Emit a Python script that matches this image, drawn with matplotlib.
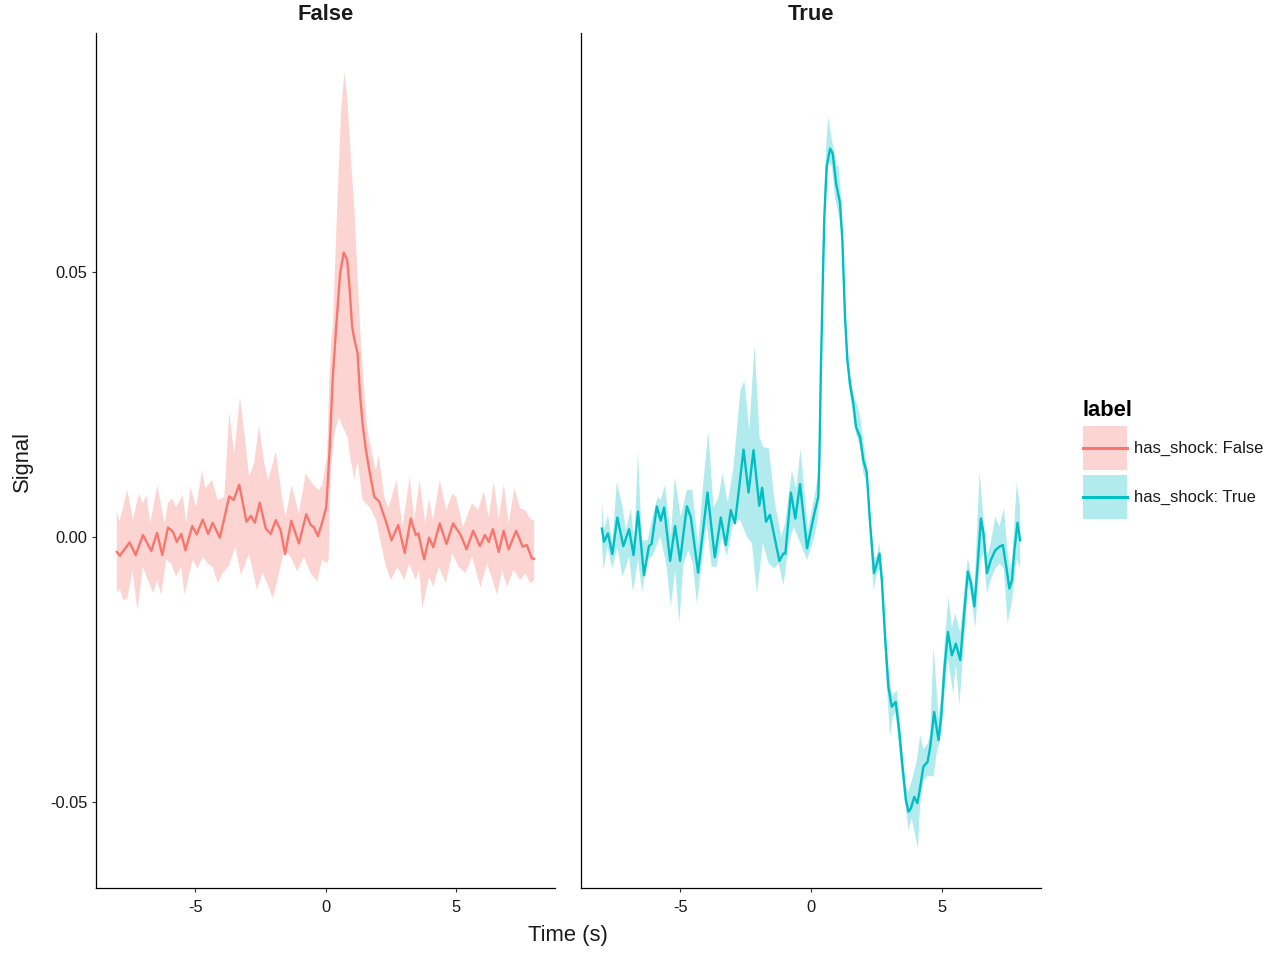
"""Faceted event-locked signal: mean trace with ribbon, split by has_shock."""
import numpy as np
import matplotlib
matplotlib.use("Agg")
import matplotlib.pyplot as plt
from matplotlib.lines import Line2D
from matplotlib.patches import Rectangle
from matplotlib.legend_handler import HandlerBase
from matplotlib.ticker import FormatStrFormatter

plt.rcParams["font.family"] = ["Liberation Sans", "DejaVu Sans"]
plt.rcParams["axes.unicode_minus"] = False

FACETS = ["False", "True"]
LEGEND_LABELS = ["has_shock: False", "has_shock: True"]
COLORS = ["#F8766D", "#00BFC4"]

# ---- has_shock = False -------------------------------------------------
t_mean_false = [-8.00, -7.89, -7.51, -7.28, -7.00, -6.68, -6.46, -6.26, -6.04, -5.85,
                -5.70, -5.53, -5.37, -5.11, -4.94, -4.71, -4.50, -4.33, -4.05, -3.69,
                -3.52, -3.31, -3.03, -2.86, -2.71, -2.52, -2.29, -2.10, -1.91, -1.72,
                -1.55, -1.31, -1.02, -0.74, -0.57, -0.45, -0.29, -0.13, 0.03, 0.15,
                0.28, 0.41, 0.56, 0.70, 0.83, 0.92, 1.02, 1.11, 1.23, 1.32,
                1.42, 1.55, 1.68, 1.87, 2.06, 2.32, 2.53, 2.79, 3.04, 3.27,
                3.46, 3.56, 3.78, 3.97, 4.13, 4.38, 4.64, 4.89, 5.18, 5.41,
                5.66, 5.92, 6.11, 6.26, 6.42, 6.64, 6.83, 7.02, 7.31, 7.56,
                7.72, 7.91, 8.00]
mean_false = [-0.0028, -0.0035, -0.0010, -0.0034, 0.0004, -0.0026, 0.0008, -0.0034, 0.0018, 0.0010,
              -0.0009, 0.0006, -0.0025, 0.0021, 0.0005, 0.0033, 0.0006, 0.0027, -0.0001, 0.0077,
              0.0070, 0.0099, 0.0029, 0.0040, 0.0027, 0.0065, 0.0016, 0.0006, 0.0032, 0.0013,
              -0.0032, 0.0031, -0.0012, 0.0043, 0.0023, 0.0019, 0.0002, 0.0027, 0.0057, 0.0158,
              0.0302, 0.0397, 0.0498, 0.0537, 0.0523, 0.0472, 0.0397, 0.0372, 0.0347, 0.0271,
              0.0215, 0.0164, 0.0126, 0.0076, 0.0067, 0.0029, -0.0006, 0.0023, -0.0030, 0.0035,
              0.0004, 0.0007, -0.0042, -0.0001, -0.0019, 0.0026, -0.0013, 0.0026, 0.0004, -0.0023,
              0.0012, -0.0017, 0.0004, -0.0009, 0.0015, -0.0028, 0.0012, -0.0023, 0.0012, -0.0018,
              -0.0015, -0.0040, -0.0041]

t_hi_false = [-8.00, -7.91, -7.76, -7.60, -7.38, -7.16, -7.00, -6.87, -6.72, -6.45,
              -6.17, -6.04, -5.88, -5.73, -5.47, -5.34, -5.18, -4.96, -4.73, -4.61,
              -4.35, -4.13, -3.88, -3.69, -3.50, -3.28, -3.05, -2.93, -2.74, -2.55,
              -2.35, -2.19, -1.91, -1.65, -1.53, -1.30, -1.02, -0.76, -0.51, -0.26,
              -0.13, 0.06, 0.15, 0.22, 0.28, 0.47, 0.60, 0.73, 0.85, 0.98,
              1.11, 1.23, 1.36, 1.49, 1.62, 1.81, 1.93, 2.04, 2.25, 2.42,
              2.72, 2.95, 3.23, 3.40, 3.61, 3.82, 3.97, 4.12, 4.38, 4.63,
              4.86, 5.01, 5.27, 5.62, 5.85, 6.07, 6.26, 6.45, 6.64, 6.84,
              7.02, 7.24, 7.47, 7.66, 7.81, 8.00]
hi_false = [0.0051, 0.0029, 0.0057, 0.0089, 0.0032, 0.0082, 0.0064, 0.0079, 0.0026, 0.0098,
            0.0026, 0.0064, 0.0073, 0.0057, 0.0079, 0.0026, 0.0095, 0.0057, 0.0126, 0.0092,
            0.0108, 0.0070, 0.0076, 0.0236, 0.0158, 0.0265, 0.0170, 0.0114, 0.0139, 0.0211,
            0.0139, 0.0108, 0.0161, 0.0070, 0.0038, 0.0098, 0.0045, 0.0120, 0.0101, 0.0089,
            0.0098, 0.0152, 0.0300, 0.0372, 0.0400, 0.0649, 0.0806, 0.0878, 0.0818, 0.0711,
            0.0617, 0.0491, 0.0366, 0.0271, 0.0200, 0.0152, 0.0126, 0.0155, 0.0076, 0.0055,
            0.0108, 0.0019, 0.0114, 0.0032, 0.0108, 0.0026, 0.0073, 0.0032, 0.0108, 0.0051,
            0.0082, 0.0076, 0.0019, 0.0064, 0.0051, 0.0086, 0.0038, 0.0104, 0.0035, 0.0101,
            0.0026, 0.0092, 0.0054, 0.0051, 0.0038, 0.0030]

t_lo_false = [-8.00, -7.89, -7.76, -7.60, -7.40, -7.21, -7.00, -6.81, -6.61, -6.46,
              -6.30, -6.11, -5.92, -5.73, -5.53, -5.41, -5.09, -4.90, -4.71, -4.52,
              -4.33, -4.13, -3.94, -3.69, -3.46, -3.24, -2.93, -2.63, -2.42, -2.23,
              -2.03, -1.84, -1.59, -1.34, -1.08, -0.83, -0.57, -0.32, -0.13, 0.06,
              0.12, 0.20, 0.30, 0.41, 0.51, 0.66, 0.85, 0.95, 1.11, 1.23,
              1.42, 1.68, 1.94, 2.13, 2.32, 2.51, 2.76, 3.02, 3.21, 3.46,
              3.59, 3.71, 3.97, 4.13, 4.35, 4.61, 4.86, 5.11, 5.37, 5.62,
              5.94, 6.20, 6.58, 6.77, 6.96, 7.21, 7.47, 7.66, 7.85, 8.00]
lo_false = [-0.0106, -0.0097, -0.0119, -0.0116, -0.0065, -0.0138, -0.0056, -0.0081, -0.0106, -0.0081,
            -0.0109, -0.0043, -0.0050, -0.0075, -0.0056, -0.0109, -0.0043, -0.0059, -0.0037, -0.0050,
            -0.0056, -0.0087, -0.0068, -0.0053, -0.0018, -0.0072, -0.0031, -0.0100, -0.0068, -0.0087,
            -0.0116, -0.0081, -0.0025, -0.0037, -0.0065, -0.0037, -0.0068, -0.0084, -0.0043, -0.0050,
            -0.0040, 0.0120, 0.0180, 0.0208, 0.0227, 0.0208, 0.0189, 0.0150, 0.0108, 0.0145,
            0.0070, 0.0057, 0.0032, -0.0012, -0.0056, -0.0081, -0.0056, -0.0081, -0.0050, -0.0081,
            -0.0062, -0.0135, -0.0075, -0.0094, -0.0056, -0.0087, -0.0031, -0.0056, -0.0068, -0.0037,
            -0.0094, -0.0050, -0.0109, -0.0062, -0.0094, -0.0062, -0.0081, -0.0068, -0.0087, -0.0081]

# ---- has_shock = True --------------------------------------------------
t_mean_true = [-8.00, -7.92, -7.77, -7.60, -7.41, -7.18, -6.96, -6.79, -6.62, -6.39,
               -6.20, -6.10, -5.90, -5.75, -5.62, -5.39, -5.20, -5.01, -4.75, -4.60,
               -4.32, -3.96, -3.68, -3.45, -3.26, -3.07, -2.91, -2.58, -2.39, -2.20,
               -1.98, -1.87, -1.72, -1.57, -1.21, -1.06, -0.98, -0.77, -0.60, -0.42,
               -0.15, 0.13, 0.28, 0.32, 0.38, 0.45, 0.51, 0.60, 0.73, 0.83,
               0.96, 1.11, 1.20, 1.30, 1.39, 1.49, 1.62, 1.72, 1.88, 2.00,
               2.13, 2.26, 2.41, 2.52, 2.62, 2.71, 2.84, 2.96, 3.09, 3.24,
               3.37, 3.50, 3.63, 3.73, 3.82, 3.95, 4.07, 4.18, 4.30, 4.46,
               4.56, 4.71, 4.88, 4.98, 5.11, 5.24, 5.39, 5.54, 5.71, 5.86,
               6.00, 6.12, 6.25, 6.37, 6.50, 6.60, 6.73, 6.88, 7.05, 7.21,
               7.34, 7.47, 7.59, 7.69, 7.78, 7.90, 8.00]
mean_true = [0.0016, -0.0009, 0.0007, -0.0032, 0.0037, -0.0017, 0.0015, -0.0034, 0.0048, -0.0072,
             -0.0017, -0.0013, 0.0058, 0.0031, 0.0056, -0.0045, 0.0021, -0.0045, 0.0058, 0.0038,
             -0.0067, 0.0084, -0.0038, 0.0037, -0.0015, 0.0051, 0.0026, 0.0165, 0.0084, 0.0164,
             0.0059, 0.0093, 0.0029, 0.0042, -0.0045, -0.0031, -0.0031, 0.0084, 0.0035, 0.0100,
             -0.0021, 0.0045, 0.0076, 0.0145, 0.0321, 0.0479, 0.0604, 0.0699, 0.0733, 0.0724,
             0.0667, 0.0630, 0.0560, 0.0416, 0.0334, 0.0290, 0.0252, 0.0208, 0.0188, 0.0145,
             0.0123, 0.0026, -0.0068, -0.0050, -0.0031, -0.0081, -0.0194, -0.0282, -0.0320, -0.0311,
             -0.0364, -0.0433, -0.0496, -0.0518, -0.0512, -0.0490, -0.0502, -0.0471, -0.0433, -0.0424,
             -0.0396, -0.0330, -0.0383, -0.0339, -0.0245, -0.0179, -0.0223, -0.0201, -0.0232, -0.0144,
             -0.0065, -0.0087, -0.0131, -0.0056, 0.0035, 0.0007, -0.0068, -0.0043, -0.0025, -0.0018,
             -0.0015, -0.0056, -0.0097, -0.0081, -0.0025, 0.0027, -0.0006]

t_hi_true = [-8.00, -7.92, -7.77, -7.60, -7.43, -7.21, -7.08, -6.89, -6.76, -6.62,
             -6.47, -6.25, -6.06, -5.87, -5.75, -5.59, -5.36, -5.21, -4.98, -4.75,
             -4.54, -4.32, -4.11, -3.93, -3.73, -3.55, -3.38, -3.19, -2.97, -2.70,
             -2.55, -2.36, -2.16, -1.97, -1.84, -1.61, -1.40, -1.14, -0.99, -0.73,
             -0.57, -0.40, -0.12, 0.13, 0.28, 0.35, 0.42, 0.50, 0.58, 0.66,
             0.76, 0.88, 0.98, 1.05, 1.15, 1.25, 1.35, 1.49, 1.62, 1.80,
             1.92, 2.00, 2.13, 2.26, 2.41, 2.52, 2.62, 2.71, 2.84, 2.96,
             3.09, 3.28, 3.37, 3.50, 3.63, 3.73, 3.85, 4.05, 4.18, 4.30,
             4.46, 4.56, 4.69, 4.88, 4.98, 5.11, 5.26, 5.39, 5.52, 5.71,
             5.86, 6.00, 6.12, 6.25, 6.45, 6.60, 6.73, 6.88, 7.05, 7.21,
             7.38, 7.47, 7.59, 7.70, 7.87, 8.00]
hi_true = [0.0070, 0.0013, 0.0042, -0.0012, 0.0104, 0.0057, 0.0013, 0.0054, -0.0012, 0.0161,
           -0.0006, -0.0006, 0.0038, 0.0076, 0.0070, 0.0098, 0.0001, 0.0114, 0.0038, 0.0089,
           0.0089, -0.0015, 0.0108, 0.0199, 0.0057, 0.0073, 0.0120, 0.0064, 0.0130, 0.0277,
           0.0296, 0.0202, 0.0362, 0.0189, 0.0170, 0.0167, 0.0070, 0.0001, 0.0026, 0.0126,
           0.0089, 0.0167, 0.0013, 0.0076, 0.0120, 0.0300, 0.0480, 0.0640, 0.0740, 0.0793,
           0.0760, 0.0730, 0.0700, 0.0702, 0.0640, 0.0520, 0.0390, 0.0305, 0.0268, 0.0246,
           0.0215, 0.0183, 0.0140, 0.0050, -0.0040, -0.0035, -0.0010, -0.0060, -0.0160, -0.0250,
           -0.0300, -0.0289, -0.0330, -0.0410, -0.0470, -0.0480, -0.0460, -0.0421, -0.0374, -0.0400,
           -0.0390, -0.0370, -0.0207, -0.0340, -0.0300, -0.0200, -0.0113, -0.0170, -0.0144, -0.0180,
           -0.0100, -0.0040, -0.0070, -0.0100, 0.0123, 0.0030, -0.0040, -0.0010, 0.0038, 0.0020,
           0.0055, 0.0000, -0.0060, -0.0040, 0.0101, 0.0057]

t_lo_true = [-8.00, -7.94, -7.79, -7.60, -7.41, -7.21, -6.96, -6.81, -6.62, -6.46,
             -6.27, -6.08, -5.77, -5.54, -5.36, -5.20, -5.04, -4.88, -4.69, -4.52,
             -4.37, -4.18, -3.99, -3.80, -3.61, -3.42, -3.22, -2.96, -2.71, -2.45,
             -2.26, -2.07, -1.84, -1.62, -1.40, -1.24, -1.05, -0.85, -0.66, -0.40,
             -0.15, 0.13, 0.28, 0.35, 0.42, 0.50, 0.58, 0.68, 0.80, 0.92,
             1.05, 1.15, 1.25, 1.35, 1.45, 1.60, 1.72, 1.88, 2.00, 2.13,
             2.26, 2.39, 2.52, 2.62, 2.71, 2.84, 3.02, 3.12, 3.24, 3.37,
             3.50, 3.73, 3.85, 4.09, 4.18, 4.30, 4.46, 4.69, 4.80, 4.98,
             5.11, 5.24, 5.44, 5.54, 5.68, 5.86, 6.00, 6.12, 6.29, 6.45,
             6.60, 6.73, 6.88, 7.05, 7.21, 7.38, 7.52, 7.69, 7.87, 8.00]
lo_true = [-0.0012, -0.0062, -0.0018, -0.0059, -0.0018, -0.0075, -0.0037, -0.0103, -0.0043, -0.0103,
           -0.0043, -0.0037, 0.0001, -0.0050, -0.0131, -0.0062, -0.0163, -0.0050, -0.0025, -0.0050,
           -0.0125, -0.0050, 0.0026, -0.0056, -0.0056, 0.0001, -0.0037, 0.0032, 0.0032, 0.0001,
           -0.0012, -0.0106, -0.0012, -0.0050, -0.0059, -0.0050, -0.0091, -0.0012, 0.0019, -0.0012,
           -0.0043, 0.0001, 0.0040, 0.0250, 0.0440, 0.0570, 0.0670, 0.0710, 0.0700, 0.0640,
           0.0610, 0.0580, 0.0470, 0.0350, 0.0280, 0.0235, 0.0195, 0.0170, 0.0120, 0.0105,
           0.0000, -0.0100, -0.0070, -0.0060, -0.0100, -0.0230, -0.0377, -0.0340, -0.0330, -0.0400,
           -0.0460, -0.0553, -0.0530, -0.0587, -0.0500, -0.0460, -0.0450, -0.0452, -0.0410, -0.0370,
           -0.0290, -0.0230, -0.0295, -0.0240, -0.0317, -0.0190, -0.0090, -0.0110, -0.0172, -0.0050,
           -0.0030, -0.0106, -0.0080, -0.0060, -0.0050, -0.0060, -0.0163, -0.0120, -0.0040, -0.0059]

SERIES = [
    (t_mean_false, mean_false, t_lo_false, lo_false, t_hi_false, hi_false),
    (t_mean_true, mean_true, t_lo_true, lo_true, t_hi_true, hi_true),
]

INK = "#1a1a1a"
TICK_FS = 11.9
TITLE_FS = 15.8


class RibbonKey:
    """Legend proxy: a translucent box with the mean line through its middle."""
    def __init__(self, color):
        self.color = color


class HandlerRibbon(HandlerBase):
    def create_artists(self, legend, orig_handle, xdescent, ydescent,
                       width, height, fontsize, trans):
        x0, y0 = -xdescent, -ydescent
        box = Rectangle((x0, y0), width, height, facecolor=orig_handle.color,
                        alpha=0.3, lw=0, transform=trans)
        ymid = y0 + height / 2
        line = Line2D([x0, x0 + width], [ymid, ymid], color=orig_handle.color,
                      lw=2.2, transform=trans)
        return [box, line]


def _draw_panel(ax, series, color, title, first):
    t_m, m, t_lo, lo, t_hi, hi = series
    # ribbon polygon: upper edge forward, lower edge back
    xs = np.concatenate([t_hi, t_lo[::-1]])
    ys = np.concatenate([hi, lo[::-1]])
    ax.fill(xs, ys, color=color, alpha=0.3, lw=0)
    ax.plot(t_m, m, color=color, lw=1.7, solid_joinstyle="round")

    ax.set_xlim(-8.8, 8.8)
    ax.set_ylim(-0.0662, 0.0951)
    ax.set_xticks([-5, 0, 5])
    ax.set_yticks([-0.05, 0.0, 0.05])
    ax.yaxis.set_major_formatter(FormatStrFormatter("%.2f"))
    for side in ("top", "right"):
        ax.spines[side].set_visible(False)
    for side in ("left", "bottom"):
        ax.spines[side].set_linewidth(0.9)
        ax.spines[side].set_color("black")
    ax.tick_params(direction="out", length=3, width=0.8, color="#333333",
                   labelsize=TICK_FS, labelcolor=INK)
    ax.tick_params(axis="x", pad=5.8)
    ax.tick_params(axis="y", pad=3.2)
    if not first:
        ax.tick_params(axis="y", labelleft=False, length=0)
    ax.set_title(title, fontsize=TITLE_FS, fontweight="bold", color=INK, pad=9.3)


def main():
    fig = plt.figure(figsize=(12.8, 9.6), dpi=100)
    fig.patch.set_facecolor("white")
    ax_l = fig.add_axes([0.075, 0.075, 0.3586, 0.8906])
    ax_r = fig.add_axes([0.4539, 0.075, 0.3594, 0.8906])

    for ax, s, c, title, first in zip((ax_l, ax_r), SERIES, COLORS, FACETS, (True, False)):
        _draw_panel(ax, s, c, title, first)

    fig.text(568 / 1280, 1 - 935 / 960, "Time (s)", ha="center", va="center",
             fontsize=TITLE_FS, color=INK)
    fig.text(22 / 1280, 1 - 461 / 960, "Signal", ha="center", va="center",
             rotation=90, fontsize=TITLE_FS, color=INK)

    handles = [RibbonKey(c) for c in COLORS]
    leg = fig.legend(handles, LEGEND_LABELS, title="label",
                     loc="upper left", bbox_to_anchor=(1083 / 1280, 1 - 400 / 960),
                     frameon=False, fontsize=TICK_FS, borderpad=0, borderaxespad=0,
                     handlelength=2.65, handleheight=3.72, handletextpad=0.45,
                     labelspacing=0.3, alignment="left",
                     handler_map={RibbonKey: HandlerRibbon()})
    leg.get_title().set_fontsize(TITLE_FS)
    leg.get_title().set_fontweight("bold")
    for txt in leg.get_texts():
        txt.set_color(INK)

    fig.savefig("out.png", dpi=100, facecolor="white")
    plt.close(fig)


if __name__ == "__main__":
    main()
